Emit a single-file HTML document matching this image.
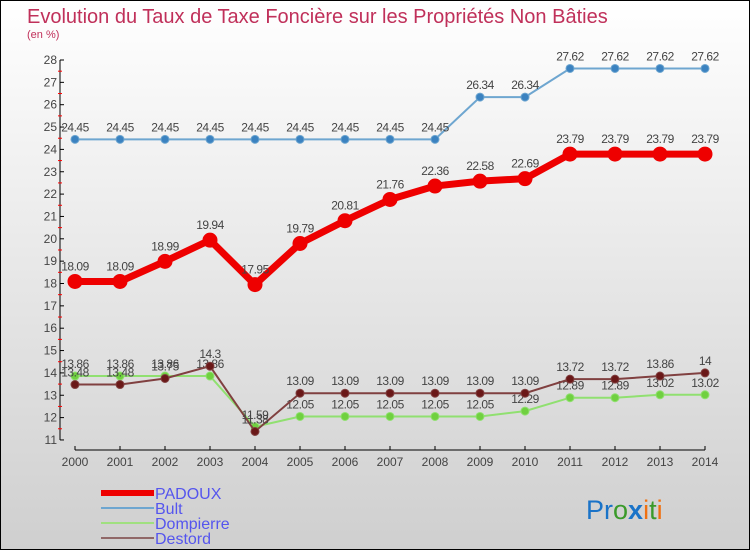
<!DOCTYPE html>
<html><head><meta charset="utf-8"><style>
body{margin:0}
#c{width:748px;height:548px;border:1px solid #000;background:linear-gradient(#fff,#cfcfcf);position:relative;overflow:hidden;font-family:"Liberation Sans",sans-serif}
svg text{font-family:"Liberation Sans",sans-serif}
</style></head><body>
<div id="c">
<svg id="s" width="748" height="548">
<text x="26" y="22" font-size="20" fill="#c0305a">Evolution du Taux de Taxe Foncière sur les Propriétés Non Bâties</text>
<text x="26" y="37" font-size="11" fill="#c0305a">(en %)</text>
<g id="ax"></g><g id="ser"></g>
<text x="585" y="518" font-size="27"><tspan fill="#1a73c8">Pr</tspan><tspan fill="#3a9a2a">o</tspan><tspan fill="#1a73c8" font-weight="bold">x</tspan><tspan fill="#f07010">i</tspan><tspan fill="#3a9a2a">t</tspan><tspan fill="#f07010">i</tspan></text>
</svg></div>
<script>
const years=[2000,2001,2002,2003,2004,2005,2006,2007,2008,2009,2010,2011,2012,2013,2014];
const padoux=[18.09,18.09,18.99,19.94,17.95,19.79,20.81,21.76,22.36,22.58,22.69,23.79,23.79,23.79,23.79];
const bult=[24.45,24.45,24.45,24.45,24.45,24.45,24.45,24.45,24.45,26.34,26.34,27.62,27.62,27.62,27.62];
const dompierre=[13.86,13.86,13.86,13.86,11.59,12.05,12.05,12.05,12.05,12.05,12.29,12.89,12.89,13.02,13.02];
const destord=[13.48,13.48,13.75,14.3,11.38,13.09,13.09,13.09,13.09,13.09,13.09,13.72,13.72,13.86,14];
const yTicks=[11,12,13,14,15,16,17,18,19,20,21,22,23,24,25,26,27,28];
const NS="http://www.w3.org/2000/svg";
const X=i=>74+i*45, Y=v=>59+(28-v)*22.35;
function mk(p,t,a){const e=document.createElementNS(NS,t);for(const k in a)e.setAttribute(k,a[k]);p.appendChild(e);return e;}
const ax=document.getElementById('ax'), ser=document.getElementById('ser');
let l=mk(ax,'line',{x1:59,y1:Y(28),x2:59,y2:Y(11),stroke:'#000'});


l=mk(ax,'line',{x1:X(0),y1:449,x2:X(14),y2:449,stroke:'#000'});


yTicks.forEach(v=>{mk(ax,'line',{x1:59,x2:63,y1:Y(v),y2:Y(v),stroke:'#000'});
 if(v<28)mk(ax,'line',{x1:57,x2:61,y1:Y(v+0.5),y2:Y(v+0.5),stroke:'#f00'});
 const t=mk(ax,'text',{x:56,y:Y(v)+4,'font-size':12,'text-anchor':'end',fill:'#444'});t.textContent=v;
 
 });
years.forEach((y,i)=>{mk(ax,'line',{x1:X(i),x2:X(i),y1:445,y2:449,stroke:'#000'});
 const t=mk(ax,'text',{x:X(i),y:465,'font-size':12,'text-anchor':'middle',fill:'#444'});t.textContent=y;
 
 });
function series(d,col,fill,w,r,name){
 const p=mk(ser,'polyline',{points:d.map((v,i)=>X(i)+','+Y(v)).join(' '),fill:'none',stroke:col,'stroke-width':w});
 
 
 d.forEach((v,i)=>{const c=mk(ser,'circle',{cx:X(i),cy:Y(v),r:r,fill:fill,stroke:col});
  
  
  const t=mk(ser,'text',{x:X(i),y:Y(v)-r-4,'font-size':12,'text-anchor':'middle',fill:'#444','letter-spacing':'-0.5'});t.textContent=v;
  
  });
}
series(bult,'#6ea6d0','#3b82c0',2,4,'bult');
series(dompierre,'#90e070','#70d040',2,4,'dompierre');
series(destord,'#804040','#6a1818',2,4,'destord');
series(padoux,'#ee0000','#ee0000',7,7,'padoux');
const leg=[['PADOUX','#ee0000',6],['Bult','#6ea6d0',2],['Dompierre','#a0e080',2],['Destord','#906868',2]];
leg.forEach((e,i)=>{const y=492+i*15;
 const g=mk(ser,'g',{});
 
 
 mk(g,'line',{x1:100,x2:153,y1:y,y2:y,stroke:e[1],'stroke-width':e[2]});
 const t=mk(g,'text',{x:154,y:y+6,'font-size':16,fill:'#5555ee'});t.textContent=e[0];});
</script></body></html>
